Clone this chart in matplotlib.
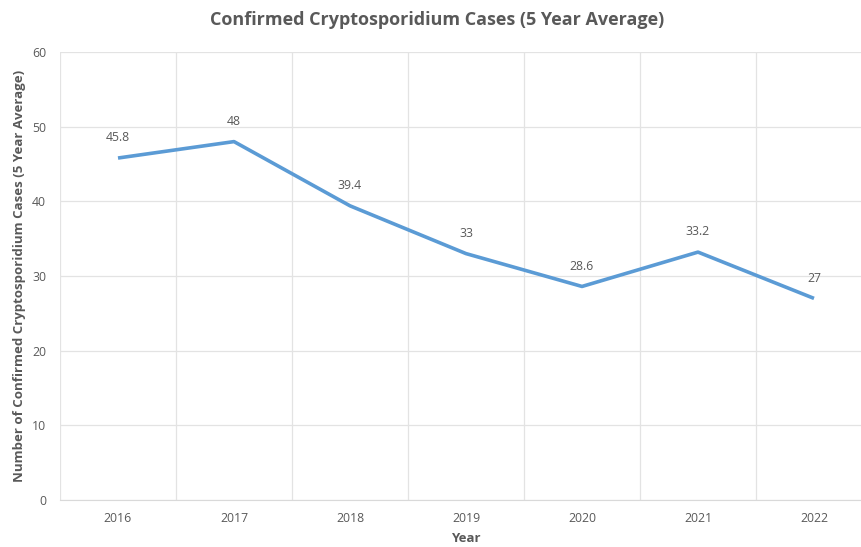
import matplotlib
matplotlib.use("Agg")
import matplotlib.pyplot as plt

years = ["2016", "2017", "2018", "2019", "2020", "2021", "2022"]
cases = [45.8, 48, 39.4, 33, 28.6, 33.2, 27]
y_ticks = [0, 10, 20, 30, 40, 50, 60]

TEXT = "#595959"
GRID = "#e3e3e3"
LINE = "#5b9bd5"

plt.rcParams["font.family"] = ["Open Sans", "DejaVu Sans"]

fig = plt.figure(figsize=(8.62, 5.47), dpi=100)
# plot area in pixels: left 60, right ~872 (clipped by image edge), top 52, bottom 500
ax = fig.add_axes([60 / 862, 47 / 547, 812 / 862, 448 / 547])

x = list(range(len(years)))
ax.plot(x, cases, color=LINE, linewidth=2.6, solid_capstyle="butt", zorder=3)
for xi, v in zip(x, cases):
    ax.annotate(f"{v:g}", (xi, v), xytext=(0, 10), textcoords="offset points",
                ha="center", va="bottom", fontsize=8.8, color=TEXT)

ax.set_xlim(-0.5, len(years) - 0.5)
ax.set_ylim(0, 60)
ax.set_yticks(y_ticks)
ax.set_xticks(x)
ax.set_xticklabels(years)
ax.set_xticks([i + 0.5 for i in range(-1, len(years))], minor=True)

ax.grid(axis="y", which="major", color=GRID, linewidth=0.9)
ax.grid(axis="x", which="minor", color=GRID, linewidth=0.9)
ax.set_axisbelow(True)
for side in ["top", "right", "left"]:
    ax.spines[side].set_visible(False)
ax.spines["bottom"].set_color("#d9d9d9")
ax.tick_params(axis="both", which="both", length=0, colors=TEXT, labelsize=8.8)
ax.tick_params(axis="x", pad=9)
ax.tick_params(axis="y", pad=10)

ax.set_xlabel("Year", fontsize=9.5, fontweight="bold", color=TEXT, labelpad=5)
ax.set_ylabel("Number of Confirmed Cryptosporidium Cases (5 Year Average)",
              fontsize=9.5, fontweight="bold", color=TEXT, labelpad=4)
fig.text(437 / 862, 1 - 20 / 547, "Confirmed Cryptosporidium Cases (5 Year Average)",
         ha="center", va="center", fontsize=13, fontweight="bold", color=TEXT)

fig.savefig("out.png", dpi=100)
